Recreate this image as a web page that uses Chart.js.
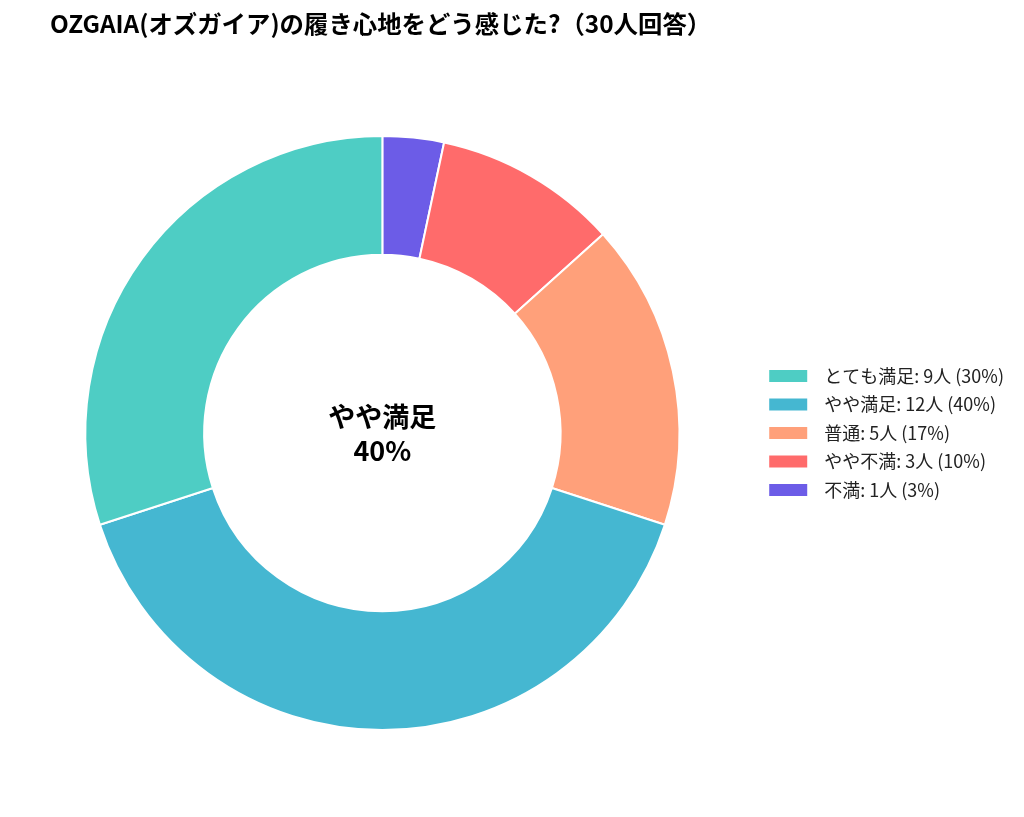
<!DOCTYPE html>
<html>
<head>
<meta charset="utf-8">
<script src="https://cdn.jsdelivr.net/npm/chart.js@4"></script>
<style>
html,body{margin:0;padding:0;background:#fff;}
#wrap{width:1024px;height:817px;}
</style>
</head>
<body>
<div id="wrap"><canvas id="c"></canvas></div>
<script>
const titleText = 'OZGAIA(オズガイア)の履き心地をどう感じた?（30人回答）';
const categories = ['とても満足', 'やや満足', '普通', 'やや不満', '不満'];
const counts = [9, 12, 5, 3, 1];
const percents = [30, 40, 17, 10, 3];
const colors = ['#4ECDC4', '#45B7D1', '#FFA07A', '#FF6B6B', '#6C5CE7'];
const centerLines = ['やや満足', '40%'];

const FONT = '"Noto Sans CJK JP", "Noto Sans", sans-serif';

const legendLabels = categories.map((c, i) => c + ': ' + counts[i] + '人 (' + percents[i] + '%)');
// drawn counterclockwise from top: reverse order for clockwise drawing
const rLabels = legendLabels.slice().reverse();
const rCounts = counts.slice().reverse();
const rColors = colors.slice().reverse();

const titlePlugin = {
  id: 'customTitle',
  afterDraw(chart) {
    const ctx = chart.ctx;
    ctx.save();
    ctx.font = 'bold 24.4px ' + FONT;
    ctx.fillStyle = '#000';
    ctx.textAlign = 'left';
    ctx.textBaseline = 'middle';
    ctx.fillText(titleText, 50, 23.5);
    ctx.restore();
  }
};
const centerPlugin = {
  id: 'centerText',
  afterDraw(chart) {
    const meta = chart.getDatasetMeta(0);
    const arc = meta.data[0];
    const cx = arc.x, cy = arc.y;
    const ctx = chart.ctx;
    ctx.save();
    ctx.font = 'bold 27px ' + FONT;
    ctx.fillStyle = '#000';
    ctx.textAlign = 'center';
    ctx.textBaseline = 'middle';
    ctx.fillText(centerLines[0], cx, cy - 16);
    ctx.fillText(centerLines[1], cx, cy + 18);
    ctx.restore();
  }
};

const baseGen = Chart.overrides.doughnut.plugins.legend.labels.generateLabels;

new Chart(document.getElementById('c'), {
  type: 'doughnut',
  data: {
    labels: rLabels,
    datasets: [{
      data: rCounts,
      backgroundColor: rColors,
      borderColor: '#fff',
      borderWidth: 2
    }]
  },
  options: {
    responsive: true,
    maintainAspectRatio: false,
    animation: false,
    cutout: '60%',
    layout: { padding: { top: 135, bottom: 86, left: 4, right: 10 } },
    plugins: {
      title: { display: false },
      tooltip: { enabled: false },
      legend: {
        position: 'right',
        reverse: true,
        labels: {
          boxWidth: 54,
          boxHeight: 28,
          padding: 0.5,
          color: '#222',
          font: { family: FONT, size: 18 },
          generateLabels(chart) {
            return baseGen(chart).map(item => Object.assign(item, { strokeStyle: '#fff', lineWidth: 16 }));
          }
        }
      }
    }
  },
  plugins: [titlePlugin, centerPlugin]
});
</script>
</body>
</html>
